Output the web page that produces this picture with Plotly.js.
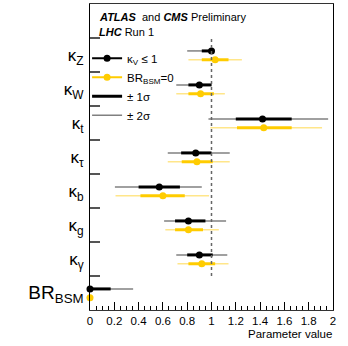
<!DOCTYPE html>
<html>
<head>
<meta charset="utf-8">
<script src="https://cdn.plot.ly/plotly-3.0.1.min.js"></script>
<style>
  html, body { margin: 0; padding: 0; background: #fff; }
  #chart { width: 348px; height: 346px; }
</style>
</head>
<body>
<div id="chart"></div>
<script>
// parameters, top to bottom
const labels = ['κ<sub>Z</sub>', 'κ<sub>W</sub>', 'κ<sub>t</sub>', 'κ<sub>τ</sub>',
    'κ<sub>b</sub>', 'κ<sub>g</sub>', 'κ<sub>γ</sub>', '<span style="font-size:19px">BR<sub>BSM</sub></span>'];
const rows = [7, 6, 5, 4, 3, 2, 1, 0];

// kappa_V <= 1 scenario (black)
const kvCentral = [1.00, 0.90, 1.42, 0.87, 0.57, 0.81, 0.90, 0.00];
const kvLo1 = [0.92, 0.81, 1.20, 0.75, 0.40, 0.70, 0.80, 0.00];
const kvHi1 = [1.00, 1.00, 1.66, 1.00, 0.74, 0.95, 1.01, 0.17];
const kvLo2 = [0.80, 0.71, 0.975, 0.64, 0.205, 0.61, 0.71, 0.00];
const kvHi2 = [1.00, 1.00, 1.96, 1.15, 0.92, 1.12, 1.13, 0.355];

// BR_BSM = 0 scenario (yellow)
const brCentral = [1.03, 0.91, 1.43, 0.88, 0.60, 0.81, 0.92, 0.00];
const brLo1 = [0.92, 0.81, 1.21, 0.755, 0.415, 0.70, 0.81, null];
const brHi1 = [1.14, 1.02, 1.66, 1.01, 0.78, 0.93, 1.03, null];
const brLo2 = [0.81, 0.71, 0.99, 0.64, 0.21, 0.62, 0.72, null];
const brHi2 = [1.25, 1.11, 1.91, 1.15, 0.98, 1.06, 1.14, null];

const smValue = 1;
const separators = [0.5, 1.5, 2.5, 3.5, 4.5, 5.5, 6.5, 7.5];

const kvShift = 0.12;
const brShift = -0.14;

function segments(lo, hi, shift) {
    const xs = [], ys = [];
    for (let i = 0; i < lo.length; i++) {
        if (lo[i] === null) continue;
        xs.push(lo[i], hi[i], null);
        ys.push(rows[i] + shift, rows[i] + shift, null);
    }
    return { x: xs, y: ys };
}

function points(c, shift) {
    const xs = [], ys = [];
    for (let i = 0; i < c.length; i++) {
        xs.push(c[i], null);
        ys.push(rows[i] + shift, null);
    }
    return { x: xs, y: ys };
}

const font = 'Liberation Sans, Arial, sans-serif';
const yellow = '#ffcc00';
const paleYellow = '#ffe68a';

const kv2 = segments(kvLo2, kvHi2, kvShift);
const br2 = segments(brLo2, brHi2, brShift);
const kv1 = segments(kvLo1, kvHi1, kvShift);
const br1 = segments(brLo1, brHi1, brShift);
const kvPts = points(kvCentral, kvShift);
const brPts = points(brCentral, brShift);

const traces = [
    {x: [smValue, smValue], y: [separators[0], separators[separators.length - 1]], yaxis: 'y2',
     mode: 'lines', line: {color: '#666', width: 1.5, dash: 'dot'}, showlegend: false, hoverinfo: 'skip'},
    {x: kv2.x, y: kv2.y, mode: 'lines', line: {color: '#808080', width: 1.5},
     name: '± 2σ', legendrank: 4},
    {x: br2.x, y: br2.y, mode: 'lines', line: {color: paleYellow, width: 1.5}, showlegend: false},
    {x: kv1.x, y: kv1.y, mode: 'lines', line: {color: '#000', width: 3},
     name: '± 1σ', legendrank: 3},
    {x: br1.x, y: br1.y, mode: 'lines', line: {color: yellow, width: 3}, showlegend: false},
    {x: kvPts.x, y: kvPts.y, mode: 'lines+markers', line: {color: '#000', width: 2},
     marker: {color: '#000', size: 7}, name: 'κ<sub>V</sub> ≤ 1', legendrank: 1, cliponaxis: false},
    {x: brPts.x, y: brPts.y, mode: 'lines+markers', line: {color: yellow, width: 2},
     marker: {color: yellow, size: 7}, name: 'BR<sub>BSM</sub>=0', legendrank: 2, cliponaxis: false},
];

const layout = {
    width: 348,
    height: 346,
    margin: {l: 90, r: 15, t: 4, b: 36},
    paper_bgcolor: '#fff',
    plot_bgcolor: '#fff',
    font: {family: font, color: '#000', size: 12},
    showlegend: true,
    legend: {
        x: -0.012, y: 0.87, xanchor: 'left', yanchor: 'top',
        bgcolor: 'rgba(0,0,0,0)', font: {size: 11.5, family: font},
        itemwidth: 30, traceorder: 'normal',
    },
    xaxis: {
        range: [0, 2],
        dtick: 0.2,
        ticks: 'inside',
        ticklen: 8,
        tickcolor: '#000',
        showline: true,
        linecolor: '#333',
        linewidth: 1,
        mirror: true,
        showgrid: false,
        zeroline: false,
        tickfont: {size: 11.5},
        minor: {dtick: 0.05, ticks: 'inside', ticklen: 4, tickcolor: '#000', showgrid: false},
    },
    yaxis: {
        range: [-0.5, 8.5],
        tickvals: rows,
        ticktext: labels,
        ticks: '',
        showline: true,
        linecolor: '#000',
        mirror: true,
        showgrid: false,
        zeroline: false,
        tickfont: {size: 17},
        ticklabelstandoff: 2,
    },
    yaxis2: {
        range: [-0.5, 8.5],
        overlaying: 'y',
        side: 'left',
        tickvals: separators,
        ticks: 'inside',
        ticklen: 10,
        tickcolor: '#555',
        tickwidth: 1.5,
        showticklabels: false,
        showline: false,
        showgrid: false,
        zeroline: false,
    },
    annotations: [
        {text: '<b><i>ATLAS</i></b>  and <b><i>CMS</i></b> Preliminary', xref: 'paper', yref: 'paper',
         x: 0.03, y: 0.985, xanchor: 'left', yanchor: 'top', showarrow: false, font: {size: 11}},
        {text: '<b><i>LHC</i></b> Run 1', xref: 'paper', yref: 'paper',
         x: 0.03, y: 0.935, xanchor: 'left', yanchor: 'top', showarrow: false, font: {size: 11}},
        {text: 'Parameter value', xref: 'paper', yref: 'paper',
         x: 1.005, y: -0.052, xanchor: 'right', yanchor: 'top', showarrow: false, font: {size: 11.5}},
    ],
};

Plotly.newPlot('chart', traces, layout, {displayModeBar: false, staticPlot: true});
</script>
</body>
</html>
